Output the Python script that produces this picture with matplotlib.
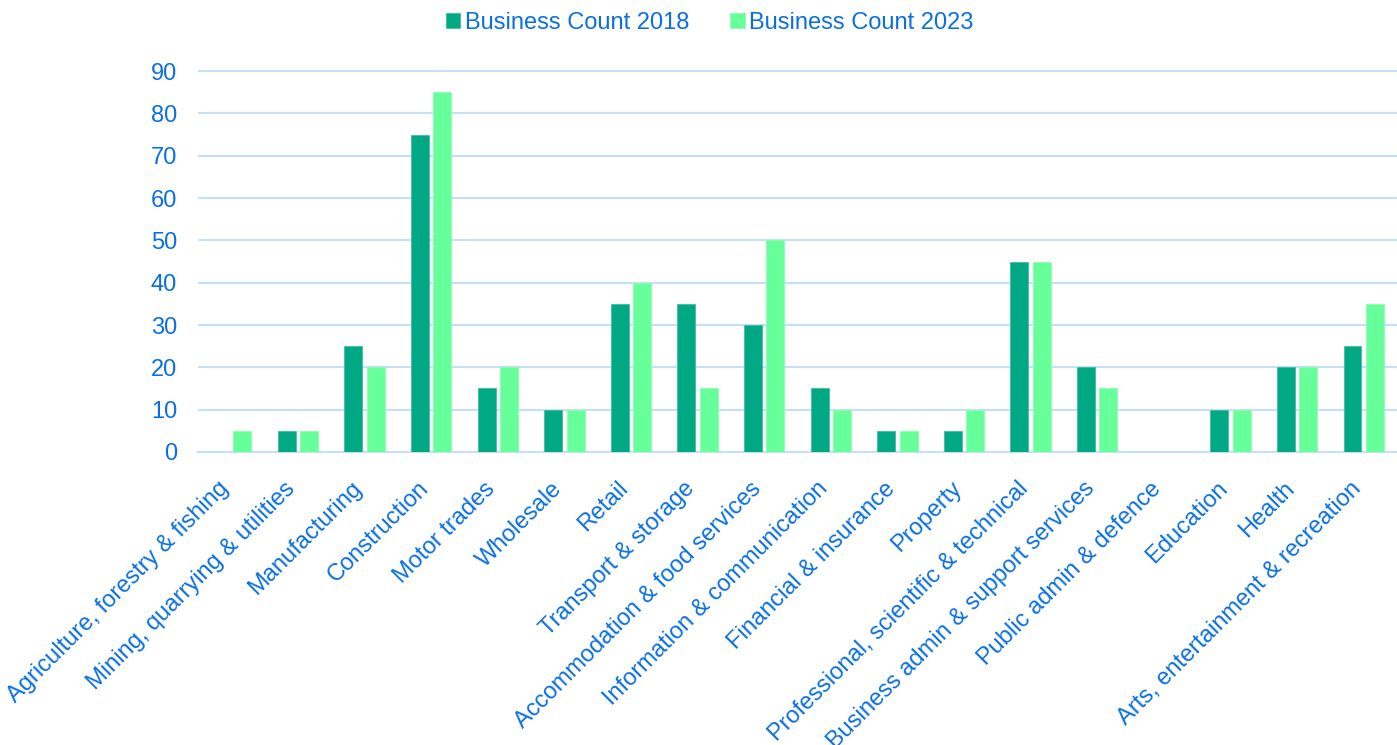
import matplotlib
matplotlib.use("Agg")
import matplotlib.pyplot as plt
import matplotlib.transforms as mtransforms
import numpy as np

categories = [
    "Agriculture, forestry & fishing",
    "Mining, quarrying & utilities",
    "Manufacturing",
    "Construction",
    "Motor trades",
    "Wholesale",
    "Retail",
    "Transport & storage",
    "Accommodation & food services",
    "Information & communication",
    "Financial & insurance",
    "Property",
    "Professional, scientific & technical",
    "Business admin & support services",
    "Public admin & defence",
    "Education",
    "Health",
    "Arts, entertainment & recreation",
]
count_2018 = [0, 5, 25, 75, 15, 10, 35, 35, 30, 15, 5, 5, 45, 20, 0, 10, 20, 25]
count_2023 = [5, 5, 20, 85, 20, 10, 40, 15, 50, 10, 5, 10, 45, 15, 0, 10, 20, 35]
y_ticks = [0, 10, 20, 30, 40, 50, 60, 70, 80, 90]

text_blue = "#0A6FE0"
grid_blue = "#C7DEF7"
c2018 = "#00A884"
c2023 = "#66FF99"

plt.rcParams["font.family"] = ["Liberation Sans", "DejaVu Sans"]

fig = plt.figure(figsize=(13.97, 7.45), dpi=100)
ax = fig.add_axes([0.1417, 0.3933, 0.8583, 0.5142])

x = np.arange(len(categories))
w = 0.27
off = 0.168
ax.bar(x - off, count_2018, width=w, color=c2018, edgecolor="#3DBFA0",
       linewidth=0.6, label="Business Count 2018", zorder=3)
ax.bar(x + off, count_2023, width=w, color=c2023, edgecolor="#8AFFB3",
       linewidth=0.6, label="Business Count 2023", zorder=3)

ax.set_xlim(-0.5, len(categories) - 0.5)
ax.set_ylim(0, 90.5)
ax.set_yticks(y_ticks)
ax.set_yticklabels([str(v) for v in y_ticks])
ax.yaxis.grid(True, color=grid_blue, linewidth=1.5, zorder=0)
ax.set_axisbelow(True)
for s in ["top", "right", "left"]:
    ax.spines[s].set_visible(False)
ax.spines["bottom"].set_color(grid_blue)
ax.spines["bottom"].set_linewidth(1.5)

ax.tick_params(axis="y", length=0, pad=15, labelsize=17, labelcolor=text_blue)
ax.tick_params(axis="x", length=0, pad=24, labelsize=17, labelcolor=text_blue)
ax.set_xticks(x)
ax.set_xticklabels(categories, rotation=45, ha="right", va="center",
                   rotation_mode="anchor")
shift = mtransforms.ScaledTranslation(-6 / 100, 0, fig.dpi_scale_trans)
for lbl in ax.get_xticklabels():
    lbl.set_transform(lbl.get_transform() + shift)

leg = fig.legend(loc="upper center", bbox_to_anchor=(0.508, 1.012), ncol=2,
                 frameon=False, fontsize=17, handlelength=0.6, handleheight=0.6,
                 handletextpad=0.2, columnspacing=1.75)
for t in leg.get_texts():
    t.set_color(text_blue)

fig.savefig("out.png", dpi=100)
